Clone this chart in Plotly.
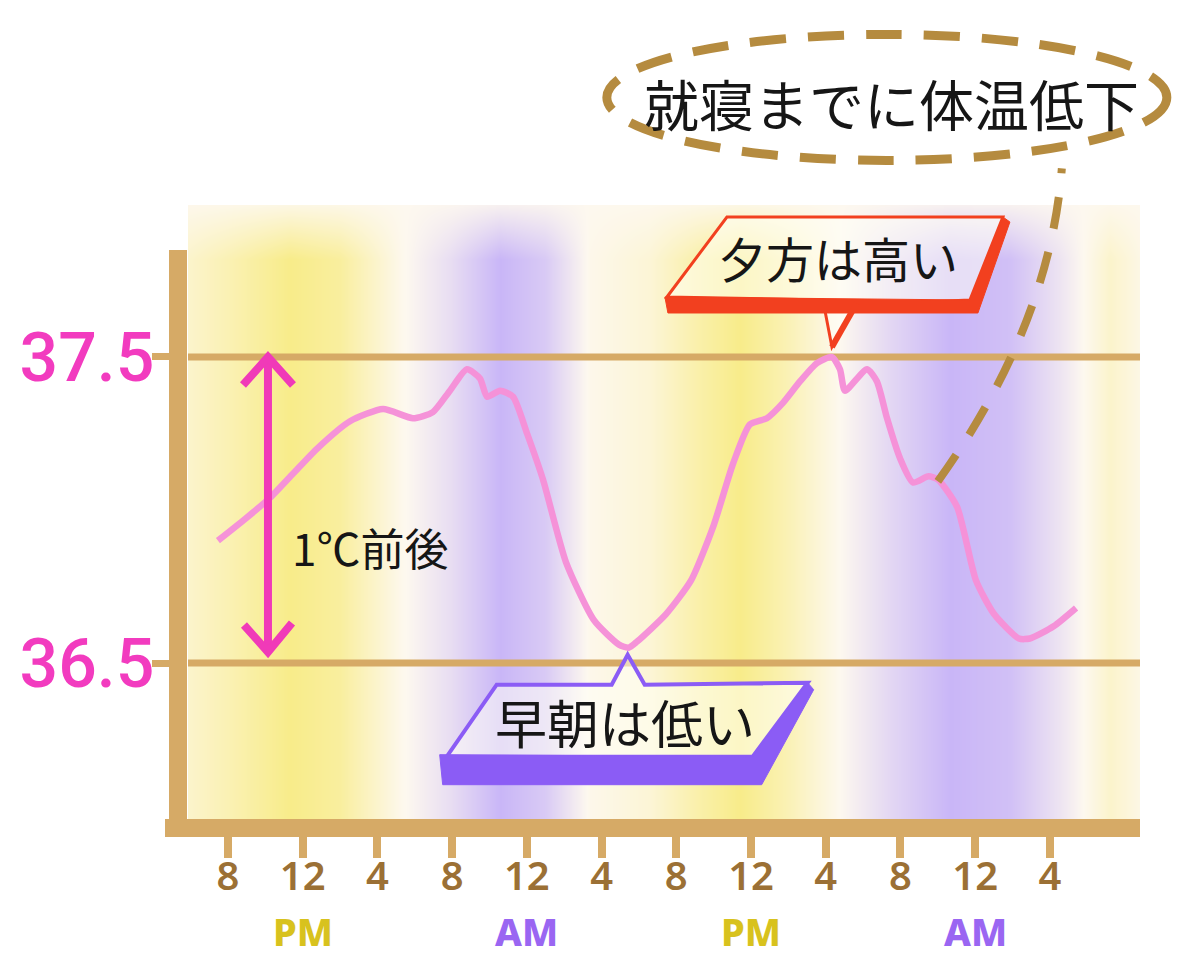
import plotly.graph_objects as go

# ---------------- data ----------------
# hours since 8 AM of day 1
hours = [-0.54, 0.9, 2.25, 3.5, 4.76, 6.53, 8.30, 9.90, 10.97, 11.88, 12.79, 13.49,
         13.87, 14.56, 15.26, 16.01, 16.86, 18.09, 19.59, 20.93, 21.45, 21.90, 23.45,
         24.79, 26.0, 27.03, 27.94, 28.85, 29.71, 30.62, 31.53, 32.33, 32.76, 33.03,
         34.21, 34.74, 35.28, 35.97, 36.67, 37.5, 38.0, 39.03, 40.04, 41.01, 42.34,
         42.93, 44.2, 45.40]
temps = [36.90, 36.97, 37.04, 37.12, 37.20, 37.29, 37.33, 37.30, 37.32, 37.39, 37.46, 37.43,
         37.37, 37.39, 37.37, 37.25, 37.10, 36.83, 36.64, 36.56, 36.55, 36.57, 36.66,
         36.77, 36.95, 37.15, 37.28, 37.30, 37.35, 37.42, 37.48, 37.50, 37.46, 37.39,
         37.46, 37.42, 37.30, 37.17, 37.09, 37.11, 37.10, 37.01, 36.77, 36.66, 36.58,
         36.58, 36.62, 36.68]

tick_hours = [0, 4, 8, 12, 16, 20, 24, 28, 32, 36, 40, 44]
tick_nums = ["8", "12", "4", "8", "12", "4", "8", "12", "4", "8", "12", "4"]
tick_periods = ["", "PM", "", "", "AM", "", "", "PM", "", "", "AM", ""]
period_colors = {"PM": "#d8c21e", "AM": "#9a66f2"}

y_ticks = [36.5, 37.5]
y_ticktext = ["36.5", "37.5"]

# background day/night bands (+1 = daytime yellow, -1 = night purple)
stripe_hours = [-2.14, 0.11, 3.32, 5.99, 9.21, 11.88, 14.56, 16.97, 19.38, 22.59,
                25.27, 27.41, 29.82, 32.76, 35.44, 38.65, 41.86, 44.54, 47.22, 48.82]
stripe_tone = [0.35, 0.6, 1.0, 0.8, 0.05, -0.4, -1.0, -0.7, 0.05, 0.25,
               0.7, 1.0, 0.6, 0.0, -0.5, -1.0, -0.85, -0.3, 0.35, 0.1]
band_levels = [35.9902, 37.82, 37.9967]
band_strength = [1.0, 1.0, 0.12]

label_high = "夕方は高い"
label_low = "早朝は低い"
label_bed = "就寝までに体温低下"
label_range = "1℃前後"
bed_hour = 38.0
arrow_hour = 2.14

# ---------------- layout constants ----------------
XMIN, XMAX = -2.1413, 48.823
YMIN, YMAX = 35.9902, 37.9967
TAN = "#d6aa66"
CJK = "Noto Sans CJK JP"
PLOT_H = 614


def px(h):
    return (h - XMIN) / (XMAX - XMIN)


def py(t):
    return (t - YMIN) / (YMAX - YMIN)


def poly(points, close=True):
    s = "M " + " L ".join(f"{x},{y}" for x, y in points)
    return s + (" Z" if close else "")


def pshape(ax, ay, path, fill=None, color=None, width=0, dash=None):
    line = dict(width=width)
    if color:
        line["color"] = color
    if dash:
        line["dash"] = dash
    d = dict(type="path", xref="paper", yref="paper", xsizemode="pixel",
             ysizemode="pixel", xanchor=ax, yanchor=ay, path=path, line=line,
             layer="above")
    if fill:
        d["fillcolor"] = fill
    return d


fig = go.Figure()

# background bands
z = [[t * s for t in stripe_tone] for s in band_strength]
fig.add_trace(go.Heatmap(
    x=stripe_hours, y=band_levels, z=z, zmin=-1, zmax=1, zsmooth="best",
    colorscale=[[0, "#c9b6f7"], [0.5, "#fdf8ef"], [1, "#f8ec8a"]],
    showscale=False, hoverinfo="skip"))

# horizontal reference lines at the tick values
for yv in y_ticks:
    fig.add_trace(go.Scatter(x=[XMIN, XMAX], y=[yv, yv], mode="lines",
                             line=dict(color=TAN, width=7), hoverinfo="skip",
                             showlegend=False))

# temperature curve
fig.add_trace(go.Scatter(x=hours, y=temps, mode="lines",
                         line=dict(color="#f592d8", width=6.5, shape="spline", smoothing=0.6),
                         showlegend=False, hoverinfo="skip"))

shapes = []
# axis bands
shapes.append(pshape(0, 0, poly([(-10, -18), (-10, 569)], close=False), color=TAN, width=18))
shapes.append(pshape(0, 0, poly([(-23, -9), (952, -9)], close=False), color=TAN, width=18))

# peak callout
i_hi = temps.index(max(temps))
ax_hi, ay_hi = px(hours[i_hi]), py(temps[i_hi])
RED = "#f2401f"
shapes.append(pshape(ax_hi, ay_hi,
                     poly([(-165, 60), (-105, 140), (171, 140), (138, 57), (23, 52), (0, 10), (-9, 57)]),
                     fill="rgba(255,255,245,0.55)", color=RED, width=3))
shapes.append(pshape(ax_hi, ay_hi,
                     poly([(-167, 60), (138, 57), (171, 140), (178, 135), (146, 44), (-164, 44)]),
                     fill=RED, color=RED, width=1))
shapes.append(pshape(ax_hi, ay_hi, poly([(25, 54), (0, 10)], close=False), color=RED, width=6))

# trough callout
i_lo = temps.index(min(temps))
ax_lo, ay_lo = px(hours[i_lo]), py(temps[i_lo])
PUR = "#8b5cf5"
shapes.append(pshape(ax_lo, ay_lo,
                     poly([(-1, -7), (16, -37), (179, -35), (124, -109), (-182, -109), (-132, -37), (-17, -37)]),
                     fill="rgba(255,255,245,0.55)", color=PUR, width=4))
shapes.append(pshape(ax_lo, ay_lo,
                     poly([(-189, -107), (124, -109), (179, -35), (185, -42), (133, -137), (-186, -137)]),
                     fill=PUR, color=PUR, width=1))

# bedtime dashed bubble
i_bed = hours.index(bed_hour)
ax_bd, ay_bd = px(hours[i_bed]), py(temps[i_bed])
BRN = "#b58b3f"
shapes.append(dict(type="circle", xref="paper", yref="paper", xsizemode="pixel",
                   ysizemode="pixel", xanchor=ax_bd, yanchor=ay_bd,
                   x0=-331, x1=229, y0=319, y1=445,
                   line=dict(color=BRN, width=9, dash="36px,22px"), layer="above"))
shapes.append(pshape(ax_bd, ay_bd, "M 0,-2 Q 112,154 124,311", color=BRN, width=8,
                     dash="32px,24px"))

# 1 degree arrow
PINK = "#f03ab8"
ax_ar, ay_top, ay_bot = px(arrow_hour), py(y_ticks[1]), py(y_ticks[0])
shapes.append(pshape(ax_ar, ay_top, poly([(0, -2), (0, -293)], close=False), color=PINK, width=8))
shapes.append(pshape(ax_ar, ay_top, poly([(-25, -28), (0, 0), (25, -28)], close=False), color=PINK, width=8))
shapes.append(pshape(ax_ar, ay_bot, poly([(-24, 38), (0, 11), (24, 40)], close=False), color=PINK, width=8))


def note(x, y, dx, dy, text, size):
    return dict(xref="paper", yref="paper", x=x, y=y, xshift=dx, yshift=dy, text=text,
                xanchor="center", yanchor="middle", showarrow=False,
                font=dict(family=CJK, size=size, color="#161616"))


annotations = [
    note(ax_hi, ay_hi, 6, 100, label_high, 48),
    note(ax_lo, ay_lo, -4, -74, label_low, 52),
    note(ax_bd, ay_bd, -46, 377, label_bed, 55),
    note(ax_ar, ay_top, 102, -190, label_range, 44),
]
# AM / PM markers under the 12 o'clock ticks
for h, p in zip(tick_hours, tick_periods):
    if p:
        annotations.append(dict(xref="x", yref="paper", x=h, y=-112 / PLOT_H, text=p,
                                xanchor="center", yanchor="middle", showarrow=False,
                                font=dict(family="Noto Sans", size=38, weight=800,
                                          color=period_colors[p])))

fig.update_layout(
    width=1200, height=956,
    margin=dict(l=188, r=60, t=205, b=137),
    paper_bgcolor="white", plot_bgcolor="white",
    showlegend=False,
    xaxis=dict(range=[XMIN, XMAX], tickmode="array", tickvals=tick_hours, ticktext=tick_nums,
               ticks="outside", ticklen=38, tickwidth=8, tickcolor=TAN, automargin=False,
               ticklabelstandoff=-16,
               showgrid=False, zeroline=False, showline=False, fixedrange=True,
               tickfont=dict(family="Noto Sans", size=40, color="#9b7035", weight=600)),
    yaxis=dict(range=[YMIN, YMAX], tickmode="array", tickvals=y_ticks, ticktext=y_ticktext,
               ticks="outside", ticklen=35, tickwidth=7, tickcolor=TAN, automargin=False,
               ticklabelstandoff=-16,
               showgrid=False, zeroline=False, showline=False, fixedrange=True,
               tickfont=dict(family="Roboto", size=68, weight=500, color="#f23bbf")),
    shapes=shapes,
    annotations=annotations,
)

fig.write_html("out.html", config={"displayModeBar": False},
               post_script="document.body.style.margin='0';")
